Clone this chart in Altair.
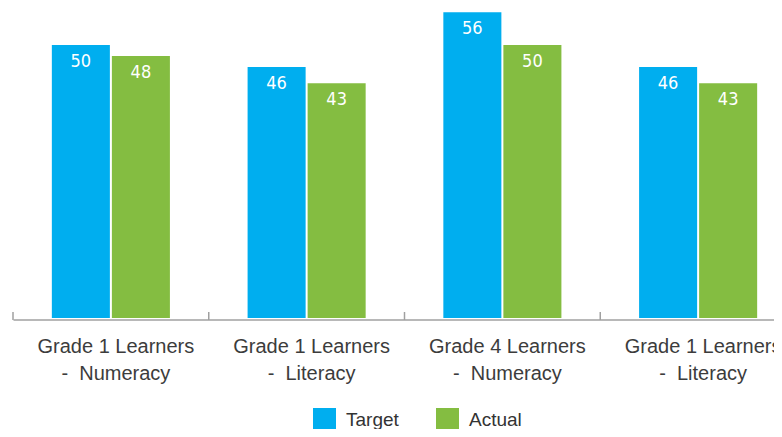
import json
import altair as alt
import pandas as pd

# ---- data ----
label_line1 = ["Grade 1 Learners", "Grade 1 Learners", "Grade 4 Learners", "Grade 1 Learners"]
label_line2 = ["-\u00a0 Numeracy", "-\u00a0 Literacy", "-\u00a0 Numeracy", "-\u00a0 Literacy"]
series_names = ["Target", "Actual"]
target = [50, 46, 56, 46]
actual = [48, 43, 50, 43]
colors = ["#00AEEF", "#84BD41"]

rows = []
for i in range(len(label_line1)):
    rows.append({"idx": i, "series": "Target", "value": target[i]})
    rows.append({"idx": i, "series": "Actual", "value": actual[i]})
df = pd.DataFrame(rows)
ticks_df = pd.DataFrame({"idx": list(range(len(label_line1)))})

labels = [[a, b] for a, b in zip(label_line1, label_line2)]
label_expr = json.dumps(labels) + "[datum.value]"

x_scale = alt.Scale(range=[0, 783], paddingInner=0, paddingOuter=0)

x_enc = alt.X(
    "idx:O",
    scale=x_scale,
    axis=alt.Axis(
        title=None,
        labelExpr=label_expr,
        labelAngle=0,
        ticks=False,
        tickSize=0,
        labelPadding=17,
        labelOffset=5,
        labelFont="Liberation Sans",
        labelFontSize=20,
        labelColor="#3c3c3c",
        labelLineHeight=27,
        labelBaseline="top",
        domainColor="#a0a0a0",
        domainWidth=1.6,
        offset=1.5,
    ),
)
xoff = alt.XOffset(
    "series:N",
    sort=series_names,
    scale=alt.Scale(paddingInner=0.0333, paddingOuter=0.647),
)
y_enc = alt.Y("value:Q", scale=alt.Scale(domain=[0, 56.8], nice=False), axis=None)

bars = alt.Chart(df).mark_bar().encode(
    x=x_enc,
    xOffset=xoff,
    y=y_enc,
    color=alt.Color(
        "series:N",
        scale=alt.Scale(domain=series_names, range=colors),
        legend=alt.Legend(
            title=None,
            orient="none",
            direction="horizontal",
            legendX=300,
            legendY=400,
            symbolType="square",
            symbolSize=529,
            symbolStrokeWidth=0,
            symbolOpacity=1,
            labelFont="Liberation Sans",
            labelFontSize=19,
            labelColor="#333333",
            labelOffset=10,
            columnPadding=37,
            padding=0,
        ),
    ),
)

text = alt.Chart(df).mark_text(
    baseline="alphabetic",
    dy=22,
    color="white",
    font="DejaVu Sans Condensed, Liberation Sans Narrow, Roboto Condensed, Roboto",
    fontSize=18,
).encode(
    x=alt.X("idx:O", scale=x_scale),
    xOffset=xoff,
    y=y_enc,
    text=alt.Text("value:Q"),
)

tick_rules = alt.Chart(ticks_df).mark_rule(color="#a0a0a0", strokeWidth=1.5).encode(
    x=alt.X("idx:O", scale=x_scale, bandPosition=0),
    y=alt.value(304),
    y2=alt.value(312),
)

chart = (
    alt.layer(bars, text, tick_rules)
    .properties(
        width=761,
        height=310,
        autosize=alt.AutoSizeParams(type="none"),
        padding={"left": 5, "top": 0, "right": 0, "bottom": 111},
    )
    .configure_view(stroke=None)
)

chart.save("out.html", embed_options={"renderer": "svg", "actions": False})
